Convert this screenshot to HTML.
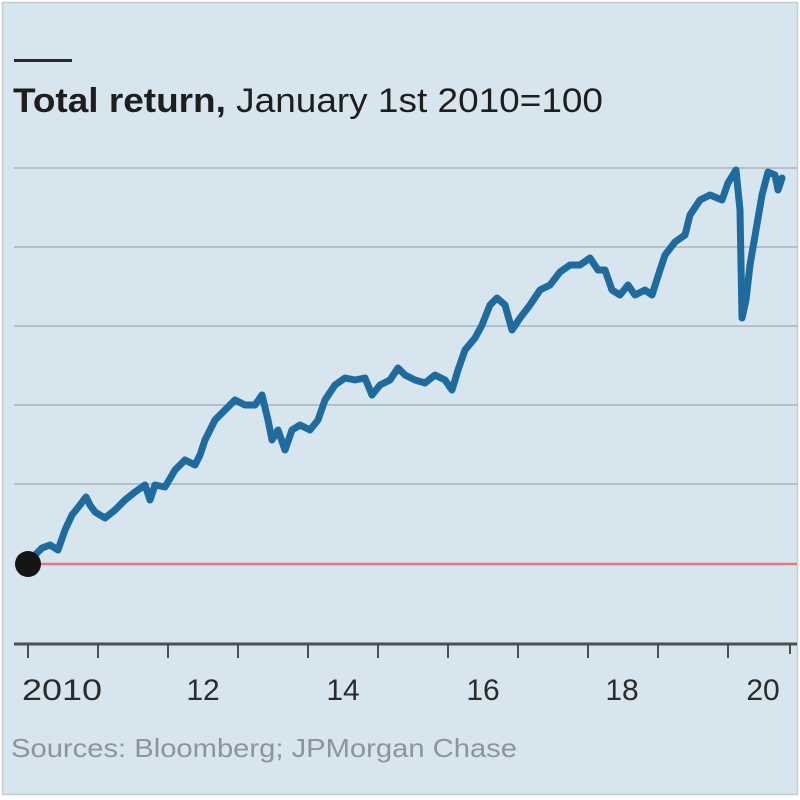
<!DOCTYPE html>
<html><head><style>
html,body{margin:0;padding:0;background:#fff;}
svg{display:block;}
</style></head><body>
<svg width="800" height="800" viewBox="0 0 800 800" xmlns="http://www.w3.org/2000/svg">
<rect x="0" y="0" width="800" height="800" fill="#fff"/>
<rect x="2.5" y="2.5" width="795" height="792" fill="#d7e5ee" stroke="#c4ccd2" stroke-width="1.5"/>
<rect x="14" y="59" width="58" height="3" fill="#2a2a2a"/>
<text x="13" y="112" font-family="Liberation Sans, sans-serif" font-size="34" fill="#1e1e1e" textLength="590" lengthAdjust="spacingAndGlyphs"><tspan font-weight="bold">Total return,</tspan> January 1st 2010=100</text>
<g stroke="#a9b4bb" stroke-width="1.5">
<line x1="14" y1="168" x2="797" y2="168"/>
<line x1="14" y1="247" x2="797" y2="247"/>
<line x1="14" y1="326" x2="797" y2="326"/>
<line x1="14" y1="405" x2="797" y2="405"/>
<line x1="14" y1="484" x2="797" y2="484"/>
</g>
<line x1="28" y1="564" x2="797" y2="564" stroke="#e07b7b" stroke-width="2.5"/>
<line x1="14" y1="644" x2="797" y2="644" stroke="#4a4f54" stroke-width="3"/>
<g stroke="#4a4f54" stroke-width="2">
<line x1="28" y1="644" x2="28" y2="658"/><line x1="98" y1="644" x2="98" y2="658"/>
<line x1="168" y1="644" x2="168" y2="658"/><line x1="238" y1="644" x2="238" y2="658"/>
<line x1="308" y1="644" x2="308" y2="658"/><line x1="378" y1="644" x2="378" y2="658"/>
<line x1="448" y1="644" x2="448" y2="658"/><line x1="518" y1="644" x2="518" y2="658"/>
<line x1="588" y1="644" x2="588" y2="658"/><line x1="658" y1="644" x2="658" y2="658"/>
<line x1="728" y1="644" x2="728" y2="658"/><line x1="790" y1="644" x2="790" y2="654"/>
</g>
<g font-family="Liberation Sans, sans-serif" font-size="30" fill="#2b2b2b" text-anchor="middle">
<text x="62" y="700" textLength="80" lengthAdjust="spacingAndGlyphs">2010</text>
<text x="203" y="700">12</text>
<text x="343" y="700">14</text>
<text x="483" y="700">16</text>
<text x="622" y="700">18</text>
<text x="763" y="700">20</text>
</g>
<text x="11" y="757" font-family="Liberation Sans, sans-serif" font-size="26" fill="#8d959b" textLength="506" lengthAdjust="spacingAndGlyphs">Sources: Bloomberg; JPMorgan Chase</text>
<polyline fill="none" stroke="#1f6b9e" stroke-width="7" stroke-linejoin="round" stroke-linecap="round" points="28,563 35,555 42,548 50,545 58,550 65,530 72,515 80,505 86,497 90,505 95,512 105,518 115,510 125,500 135,492 145,485 150,500 155,485 165,487 175,470 185,460 195,465 200,455 205,440 215,420 225,410 235,400 245,405 255,405 262,395 268,420 272,440 278,430 285,450 292,430 300,425 310,430 318,420 325,400 335,385 345,378 355,380 365,378 372,395 380,385 390,380 398,368 405,375 415,380 425,383 435,375 445,380 452,390 458,370 465,350 475,338 482,325 490,305 497,298 505,305 512,330 520,318 530,305 540,290 550,285 560,272 570,265 580,265 590,258 598,270 605,270 612,290 620,295 628,285 635,295 645,290 652,295 660,270 665,255 675,242 685,235 690,215 700,200 710,195 722,200 728,183 736,170 740,210 742,318 746,300 750,265 756,230 762,195 768,172 775,175 778,190 782,178"/>
<circle cx="28" cy="564" r="13" fill="#151515"/>
</svg>
</body></html>
